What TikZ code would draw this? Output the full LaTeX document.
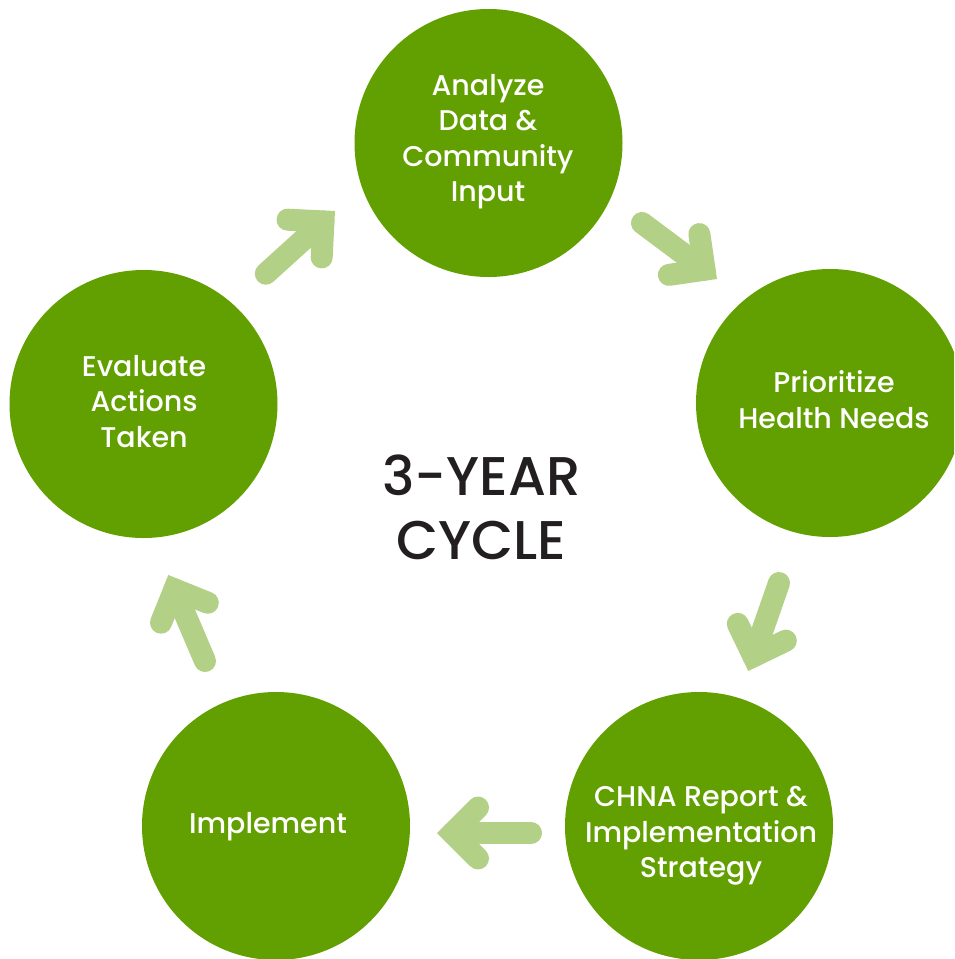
\documentclass[tikz,border=0pt]{standalone}
\usepackage{fontspec}
\setmainfont{Poppins}[UprightFont=* Medium, BoldFont=* SemiBold]
\usetikzlibrary{calc}
\definecolor{leaf}{HTML}{62A001}
\definecolor{sprout}{HTML}{B2D086}
\definecolor{ink}{HTML}{231F20}

\tikzset{
  stage/.style={circle, fill=leaf, minimum size=268pt, inner sep=0pt},
  caption/.style={text=white, align=center, inner sep=0pt,
    font=\fontsize{28.5}{35.5}\selectfont},
  flow/.style={draw=sprout, line width=22pt, line cap=round,
    line join=miter, miter limit=4},
  headline/.style={text=ink, align=center, inner sep=0pt,
    font=\fontsize{54.5}{64}\selectfont},
}

% Thick arrow from tail coordinate #1 to tip coordinate #2:
% a round-capped shaft plus a right-angled chevron head.
\newcommand\cyclearrow[2]{%
  \coordinate (#2v) at ($(#2)!15.56pt!(#1)$);
  \draw[flow] (#1) -- (#2v);
  \draw[flow] ($(#2v)!36pt!135:(#2)$) -- (#2v) -- ($(#2v)!36pt!-135:(#2)$);
}

\begin{document}
\begin{tikzpicture}[x=1pt, y=-1pt]
  \useasboundingbox (0,0) rectangle (954,959);
  \clip (0,0) rectangle (954,959);

  % the five stages of the cycle
  \node[stage] (analyze)    at (488.5,143) {};
  \node[stage] (prioritize) at (830,403)   {};
  \node[stage] (report)     at (699,826)   {};
  \node[stage] (implement)  at (276,826)   {};
  \node[stage] (evaluate)   at (143.5,404) {};

  % their captions
  \node[caption] (analyze-text)    at (488,141.5) {Analyze\\Data \&\\Community\\Input};
  \node[caption] (prioritize-text) at (834,399.5) {Prioritize\\Health Needs};
  \node[caption] (report-text)     at (701,836)   {CHNA Report \&\\Implementation\\Strategy};
  \node[caption] (implement-text)  at (268,827)   {Implement};
  \node[caption] (evaluate-text)   at (144,401.5) {Evaluate\\Actions\\Taken};

  % centre title
  \node[headline] (title) at (481.5,507) {3-YEAR\\CYCLE};

  % arrow end points
  \coordinate (t1) at (265.8,273.7); \coordinate (h1) at (335,211);
  \coordinate (t2) at (642,223);     \coordinate (h2) at (717,279);
  \coordinate (t3) at (779,583);     \coordinate (h3) at (748.3,671);
  \coordinate (t4) at (531,833);     \coordinate (h4) at (437,833);
  \coordinate (t5) at (205,661);     \coordinate (h5) at (168.3,575);

  \cyclearrow{t1}{h1}
  \cyclearrow{t2}{h2}
  \cyclearrow{t3}{h3}
  \cyclearrow{t4}{h4}
  \cyclearrow{t5}{h5}
\end{tikzpicture}
\end{document}
